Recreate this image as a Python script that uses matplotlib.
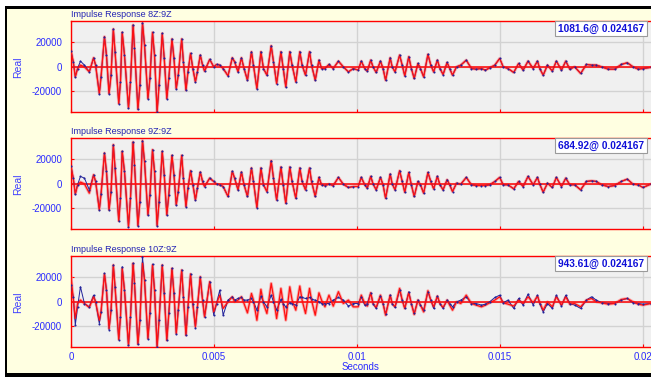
import matplotlib
matplotlib.use('Agg')
import matplotlib.pyplot as plt
from matplotlib.patches import Rectangle

plt.rcParams['font.family'] = ['Liberation Sans', 'DejaVu Sans']

# sample times (ms) of the waveform vertices, first and second half
t_a = [0.00, 0.08, 0.15, 0.23, 0.33, 0.47, 0.64, 0.79, 0.86, 0.99,
       1.05, 1.17, 1.24, 1.33, 1.40, 1.48, 1.54, 1.67, 1.73, 1.79,
       1.87, 2.01, 2.08, 2.17, 2.22, 2.34, 2.41, 2.50, 2.57, 2.69,
       2.76, 2.85, 2.92, 3.01, 3.08, 3.19, 3.26, 3.35, 3.42, 3.53,
       3.60, 3.68, 3.75, 3.87, 3.93, 4.02, 4.09, 4.18, 4.26, 4.35,
       4.42, 4.52, 4.60, 4.67, 4.85, 4.99, 5.09, 5.20, 5.32, 5.49,
       5.64, 5.72, 5.84, 5.96, 6.05, 6.17, 6.31, 6.38, 6.50, 6.64,
       6.73, 6.85, 7.00, 7.08, 7.19, 7.34, 7.42, 7.51, 7.65, 7.73,
       7.86, 8.00, 8.08, 8.20, 8.34, 8.41, 8.54, 8.67, 8.76, 8.88,
       9.02, 9.17, 9.35, 9.52, 9.70, 9.87]
t_b = [10.04, 10.15, 10.27, 10.36, 10.48, 10.56, 10.67, 10.82, 10.91, 11.00,
       11.16, 11.23, 11.33, 11.49, 11.58, 11.67, 11.81, 11.90, 12.00, 12.13,
       12.22, 12.33, 12.48, 12.58, 12.68, 12.81, 12.90, 13.01, 13.15, 13.24,
       13.34, 13.48, 13.63, 13.82, 14.00, 14.17, 14.35, 14.49, 14.64, 14.82,
       14.99, 15.11, 15.28, 15.48, 15.65, 15.81, 15.98, 16.16, 16.31, 16.39,
       16.51, 16.66, 16.83, 16.97, 17.15, 17.30, 17.44, 17.61, 17.82, 18.02,
       18.20, 18.37, 18.55, 18.78, 19.01, 19.24, 19.45, 19.65, 19.83, 20.00,
       20.27]

# 8Z:9Z
red_1a = [12800, 4100, -8200, -1400, 1400, 0, -4100, 7300, 1400, -21800,
          -8200, 24500, 9500, -21800, -6800, 30700, 12200, -29900, -12200, 28000,
          9500, -33500, -12200, 34000, 15000, -34500, -15000, 35600, 17700, -25800,
          -9500, 28000, 9500, -36700, -15000, 27200, 6800, -25800, -9500, 22600,
          6800, -17700, -6800, 22600, 4100, -19000, -4100, 10900, -1400, -12200,
          -4100, 9500, 1400, -3500, 6000, 0, 1900, 1400, -1400, -7300,
          7300, 4100, -4100, 7300, -1400, -10900, 12200, 1400, -17700, 12200,
          -1400, -6800, 17100, 4100, -13600, 12200, -1400, -16300, 12200, 1400,
          -12200, 12200, 1400, -6800, 12200, 1400, -10900, 5400, -1400, -1400,
          1900, -1400, 4600, 0, -4100, -1400]
red_1b = [-2700, 4600, -1400, -3500, 5400, 0, -4600, 4600, -1400, -10900,
          7300, 0, -4100, 9500, 1400, -7300, 8200, -1400, -9500, 2700,
          -1400, -8200, 10100, 1400, -4100, 5400, -1400, -6300, 3500, -1400,
          -6800, 0, 1400, 5400, -1400, -1900, -1400, -2700, -800, 1400,
          6800, 0, -1400, -4600, 2700, -2700, 4600, -1400, 4600, -1400,
          -6800, 1400, -3500, 4600, -2700, 4600, -1900, 0, -5400, 1900,
          1400, 1400, 0, -1900, -1900, 1900, 3300, 0, -1900, -1400,
          -500]
blue_1_head = [12800, 4100, -8200, -1400, 4600, 1400, -4100, 7300]

# 9Z:9Z
red_2a = [14100, 4600, -8400, -800, 1400, 0, -7600, 7300, 1900, -21200,
          -8400, 25000, 10100, -21200, -6300, 31800, 12800, -30200, -11700, 26400,
          10100, -34800, -11700, 34000, 15500, -34000, -14400, 35100, 18200, -25300,
          -9000, 27700, 10100, -34000, -14400, 26400, 7300, -25300, -9000, 23100,
          7300, -17100, -6300, 23100, 4600, -18500, -3500, 10600, -800, -13100,
          -3500, 9500, 1900, -2200, 4600, 1900, -300, -800, -2200, -10300,
          10100, 4600, -4900, 9500, -800, -10300, 12800, 1900, -19300, 12800,
          -800, -6300, 18800, 4600, -13100, 13600, -800, -15800, 13600, 1900,
          -11700, 12800, 1900, -4900, 12800, 1900, -10300, 5200, -800, -1400,
          -300, -1400, 5200, -300, -3000, -2200]
red_2b = [-2200, 5200, -800, -3500, 6000, 0, -4900, 5200, -800, -11700,
          7900, 0, -4900, 10600, 1900, -6800, 9200, -800, -10300, 1900,
          -800, -7600, 9200, 1900, -4100, 6000, -800, -4900, 3300, -800,
          -6300, 500, -300, 5200, -800, -1400, -1400, -1400, -800, 1900,
          5200, -800, -800, -4100, 1900, -2200, 6000, -800, 5200, -300,
          -6800, 500, -3000, 5200, -2200, 4600, -800, -800, -4900, 1900,
          2400, 1900, -800, -2200, -1400, 1900, 3800, -300, -800, -3000,
          -300]
blue_2_head = [14100, 4600, -8400, -800, 6000, 4600, -4900, 7300]

# 10Z:9Z
red_3a = [19900, 2700, -13600, -1400, 1400, -1400, -4600, 4100, 0, -15000,
          -8200, 22600, 9500, -21800, -6800, 29900, 12200, -30700, -12200, 27200,
          9500, -35400, -12200, 31300, 15000, -34500, -15000, 31300, 17700, -29900,
          -9500, 29900, 9500, -36700, -15000, 29900, 6800, -31300, -9500, 27200,
          6800, -25800, -6800, 25800, 4100, -27200, -4100, 22600, -1400, -20400,
          -4100, 20400, 1400, -12200, 16300, -8200, -1400, 5400, -5400, 0,
          4100, 0, 1400, 4100, -1400, -9000, 6800, 1400, -15000, 10100,
          -1400, -9500, 15000, 4100, -13600, 10900, -1400, -15000, 12200, 1400,
          -6800, 12800, 1400, -9500, 10900, 1400, -10900, 7300, 1400, -4100,
          5400, -3500, 8200, -1400, 1400, -4100]
red_3b = [-4100, 5400, -1400, -3500, 7300, -1400, -4600, 5400, -1400, -10900,
          5400, -1400, -4100, 10900, 1400, -5400, 7300, -1400, -10300, 1400,
          -2700, -8200, 9000, 1400, -4100, 4600, -1400, -4600, 1400, -2700,
          -6800, 0, -1400, 5400, -1400, -2700, -4100, -2700, -800, 1400,
          4100, -800, -1900, -3500, 1400, -1400, 4100, -800, 4600, -800,
          -6800, 0, -4100, 4100, -2700, 4100, -1900, -1400, -4100, 1400,
          2700, 0, -800, -1900, -1400, 1900, 2700, 0, -1900, -2700,
          -1400]
blue_3a = [13600, 4100, -19000, -4100, 12200, -1400, -4100, 5400, 0, -17700,
           -8200, 23100, 9500, -22600, -6800, 29900, 12200, -30700, -12200, 28600,
           9500, -35400, -12200, 31300, 15000, -34500, -15000, 36700, 17700, -29900,
           -9500, 30700, 9500, -36700, -15000, 29900, 6800, -31300, -9500, 27200,
           6800, -25800, -6800, 25800, 4100, -27200, -4100, 22600, -1400, -20900,
           -4100, 19900, 1400, -12200, 16300, -10900, -1400, 9500, -10900, 1400,
           4100, 1400, 2700, 3500, 1400, 1400, 2700, 0, -6800, 4600,
           0, -4100, 5400, 0, -6800, 1900, -1400, -4100, -800, -1400,
           -2700, 4100, 3500, 2700, 3500, 1900, 1400, 0, -1400, -1400,
           -1400, 1400, 3500, 1400, -3500, -1400]
blue_3b = [-1400, 4100, -2700, -1400, 7300, -1400, -5400, 4600, -1400, -10100,
           5400, -1400, -4600, 9500, 1400, -5400, 8200, -1400, -9500, 1400,
           -2700, -6800, 8200, 1400, -5400, 4600, -1400, -5400, 1400, -1400,
           -4100, 0, 1400, 4100, -1400, -1400, -2700, -1900, 0, 3500,
           5400, -800, 1400, -5400, 2700, -2700, 6300, -2700, 5400, -1400,
           -8200, -1400, -5400, 5400, -3500, 5400, -1400, -2700, -5400, 1400,
           4100, 1400, -800, -1400, -1400, 1400, 2700, -800, -1400, -1900,
           -1400]

titles = ['Impulse Response 8Z:9Z', 'Impulse Response 9Z:9Z', 'Impulse Response 10Z:9Z']
readouts = ['1081.6@ 0.024167', '684.92@ 0.024167', '943.61@ 0.024167']
x_ticks = [0, 0.005, 0.01, 0.015, 0.02]
x_tick_labels = ['0', '0.005', '0.01', '0.015', '0.02']
y_ticks = [-20000, 0, 20000]

t_sec = [t / 1000 for t in t_a + t_b]
red = [red_1a + red_1b, red_2a + red_2b, red_3a + red_3b]
blue = [blue_1_head + red_1a[8:] + red_1b,
        blue_2_head + red_2a[8:] + red_2b,
        blue_3a + blue_3b]

W, H = 651, 377
fig = plt.figure(figsize=(W / 100, H / 100), dpi=100)
fig.patch.set_facecolor('white')
# black window frame and pale yellow panel
fig.patches.append(Rectangle((5 / W, 0), 1, 1 - 6 / H, transform=fig.transFigure,
                             facecolor='black', edgecolor='none', zorder=-3))
fig.patches.append(Rectangle((7 / W, 4 / H), 1, 1 - 12.5 / H, transform=fig.transFigure,
                             facecolor='#ffffe1', edgecolor='none', zorder=-2))

label_blue = '#2b2bff'
panel_px = [(21.3, 112.3), (138.3, 229.3), (256.3, 347.3)]

for i, (top, bot) in enumerate(panel_px):
    ax = fig.add_axes([71 / W, 1 - bot / H, (W - 71) / W, (bot - top) / H])
    ax.set_facecolor('#f0f0f0')
    ax.set_axisbelow(True)
    ax.grid(color='#d2d2d2', lw=1.0)

    ax.plot(t_sec, red[i], color='#f7aaaa', lw=2.2, zorder=2, solid_joinstyle='round')
    ax.axhline(0, color='red', lw=1.1, zorder=2.5)
    ax.plot(t_sec, blue[i], color='#22229a', lw=0.7, zorder=3)
    ax.plot(t_sec, red[i], color='#ff1010', lw=0.9, zorder=4)
    ax.plot(t_sec, blue[i], ls='none', marker='o', ms=1.5, mec='none', mfc='#22229a', zorder=5)

    ax.set_xlim(0, 0.02028)
    ax.set_ylim(-37000, 37000)
    ax.set_xticks(x_ticks)
    ax.set_yticks(y_ticks)
    ax.set_yticklabels([str(v) for v in y_ticks])
    if i == 2:
        ax.set_xticklabels(x_tick_labels)
    else:
        ax.set_xticklabels([])
    ax.tick_params(axis='both', direction='in', length=2.5, color='red',
                   labelcolor=label_blue, labelsize=7)
    ax.tick_params(axis='y', pad=6.5)
    ax.tick_params(axis='x', pad=3.5)
    for s in ['left', 'top', 'bottom']:
        ax.spines[s].set_color('red')
        ax.spines[s].set_linewidth(1.0)
    ax.spines['right'].set_visible(False)

    yc = (top + bot) / 2
    fig.text(18 / W, 1 - yc / H, 'Real', rotation=90, ha='center', va='center',
             fontsize=7.5, color='#4040ff')
    fig.text(71 / W, 1 - (top - 6.8) / H, titles[i], ha='left', va='center',
             fontsize=6.5, color='#2424b4')
    fig.text(644 / W, 1 - (top + 7.4) / H, readouts[i], ha='right', va='center',
             fontsize=7.3, fontweight='bold', color='#1010d8',
             bbox=dict(boxstyle='square,pad=0.25', facecolor='white',
                       edgecolor='#9a9a9a', lw=0.8))

fig.text(361 / W, 1 - 367 / H, 'Seconds', ha='center', va='center', fontsize=7, color=label_blue)

fig.savefig('out.png', dpi=100)
